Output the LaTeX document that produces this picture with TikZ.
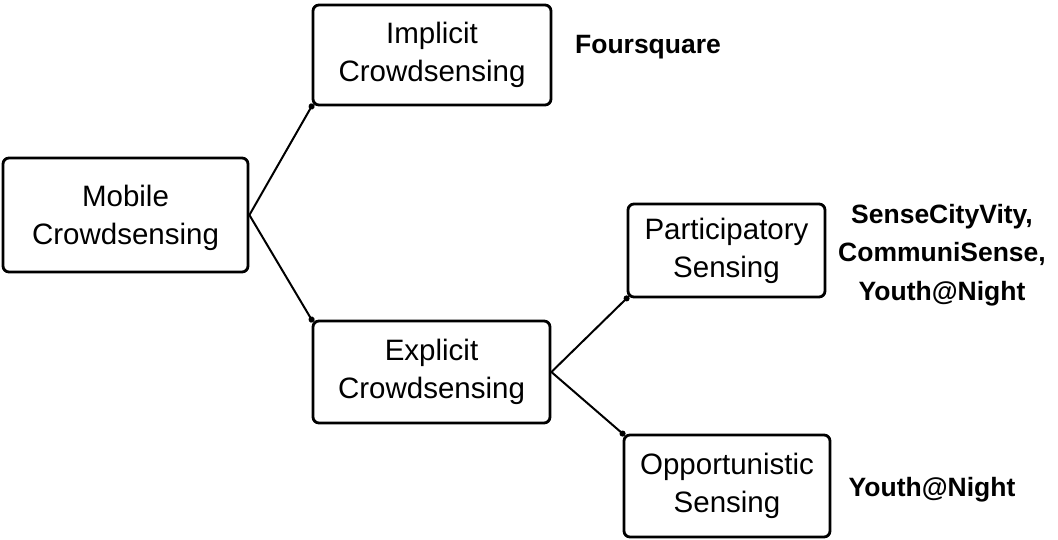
\documentclass[tikz,border=0pt]{standalone}
\usepackage{fontspec}
\setmainfont{Liberation Sans}
\usetikzlibrary{arrows.meta}
\begin{document}
\begin{tikzpicture}[x=1pt,y=-1pt,
  box/.style={draw, line width=2.8pt, rounded corners=6pt, inner sep=0pt, align=center,
    font=\fontsize{29.5}{38}\selectfont},
  lab/.style={inner sep=0pt, align=center, font=\bfseries\fontsize{26.5}{38.5}\selectfont},
  link/.style={line width=2pt, -{Circle[length=6pt]}, shorten >=-3pt}]
\useasboundingbox (0,0) rectangle (1058,539);
\node[box, minimum width=245pt, minimum height=114pt, text depth=-2pt] (mob) at (125.5,215) {Mobile\\Crowdsensing};
\node[box, minimum width=238pt, minimum height=100pt] (imp) at (432,55) {Implicit\\Crowdsensing};
\node[box, minimum width=237pt, minimum height=102pt] (exp) at (431.5,372) {Explicit\\Crowdsensing};
\node[box, minimum width=197pt, minimum height=93pt] (par) at (726.5,250.5) {Participatory\\Sensing};
\node[box, minimum width=206pt, minimum height=102pt] (opp) at (727,486) {Opportunistic\\Sensing};
\node[lab] (fsq) at (648,47) {Foursquare};
\node[lab] (pex) at (942,255) {SenseCityVity,\\CommuniSense,\\Youth@Night};
\node[lab] (oex) at (932,490) {Youth@Night};
\draw[link] (mob.east) -- (imp.south west);
\draw[link] (mob.east) -- (exp.north west);
\draw[link] (exp.east) -- (par.south west);
\draw[link] (exp.east) -- (opp.north west);
\end{tikzpicture}
\end{document}
